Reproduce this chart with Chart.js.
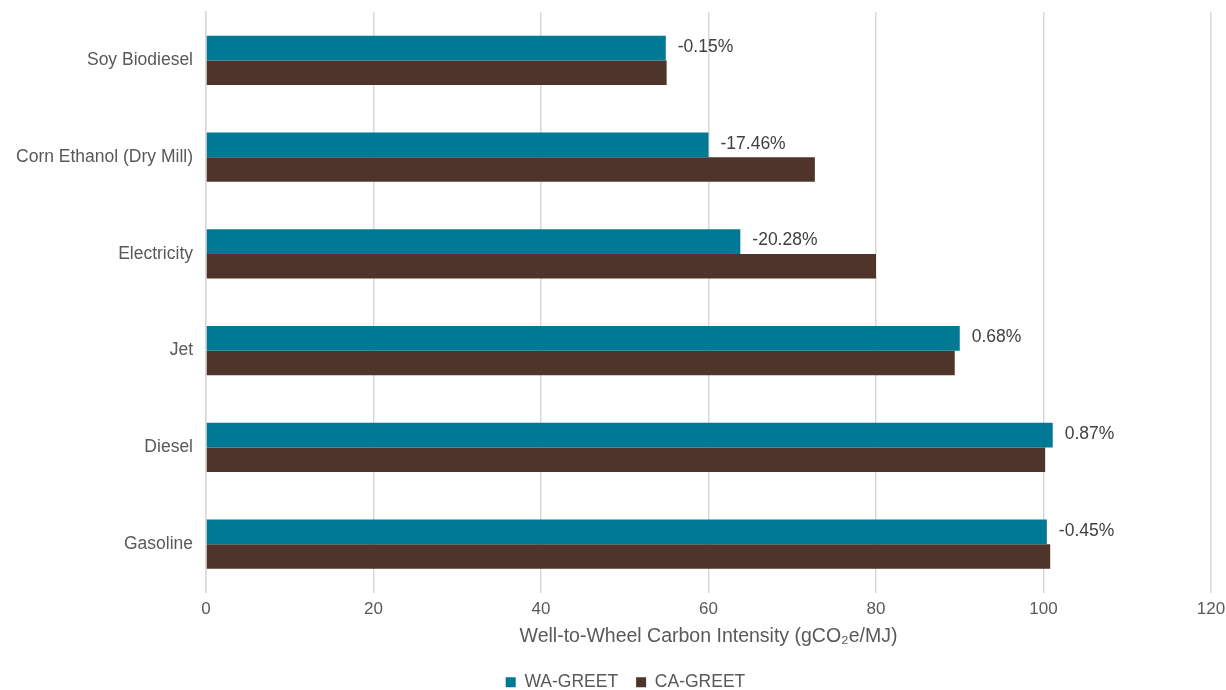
<!DOCTYPE html>
<html>
<head>
<meta charset="utf-8">
<script src="https://cdn.jsdelivr.net/npm/chart.js@4.4.1/dist/chart.umd.min.js"></script>
<style>
  html, body { margin: 0; padding: 0; background: #fff; }
  #wrap { width: 1226px; height: 690px; position: relative; }
</style>
</head>
<body>
<div id="wrap"><canvas id="ciChart"></canvas></div>
<script>
// fuels, top to bottom
const fuels = ['Soy Biodiesel', 'Corn Ethanol (Dry Mill)', 'Electricity', 'Jet', 'Diesel', 'Gasoline'];
// well-to-wheel CI, gCO2e/MJ
const waGreet = [54.9, 60.0, 63.8, 90.0, 101.1, 100.4];
const caGreet = [55.0, 72.7, 80.0, 89.4, 100.2, 100.8];
// WA vs CA difference labels
const diffLabels = ['-0.15%', '-17.46%', '-20.28%', '0.68%', '0.87%', '-0.45%'];
const xTicks = [0, 20, 40, 60, 80, 100, 120];

const FONT = 'Liberation Sans, Arial, Helvetica, sans-serif';
const TEXT = '#595959';

// writes the % difference just past the end of each WA bar
const diffLabelPlugin = {
    id: 'diffLabels',
    afterDatasetsDraw(chart) {
        const ctx = chart.ctx;
        const meta = chart.getDatasetMeta(0);
        ctx.save();
        ctx.font = '17.5px ' + FONT;
        ctx.fillStyle = '#404040';
        ctx.textAlign = 'left';
        ctx.textBaseline = 'middle';
        meta.data.forEach((bar, i) => {
            ctx.fillText(diffLabels[i], bar.x + 12, bar.y - 1);
        });
        ctx.restore();
    }
};

// legend sits a bit right of centre in the original
const legendShift = {
    id: 'legendShift',
    afterLayout(chart) {
        chart.legend.left += 20;
        chart.legend.right += 20;
    }
};

const ctx = document.getElementById('ciChart').getContext('2d');
const ciChart = new Chart(ctx, {
    type: 'bar',
    data: {
        labels: fuels,
        datasets: [{
            label: 'WA-GREET',
            data: waGreet,
            backgroundColor: '#007a94',
            borderWidth: 0,
            categoryPercentage: 0.51,
            barPercentage: 1.0
        }, {
            label: 'CA-GREET',
            data: caGreet,
            backgroundColor: '#4e342a',
            borderWidth: 0,
            categoryPercentage: 0.51,
            barPercentage: 1.0
        }]
    },
    options: {
        indexAxis: 'y',
        responsive: true,
        maintainAspectRatio: false,
        animation: false,
        layout: {
            padding: { top: 12, right: 15, left: 0, bottom: -11 }
        },
        scales: {
            x: {
                min: 0,
                max: 120,
                afterBuildTicks(scale) {
                    scale.ticks = xTicks.map(v => ({ value: v }));
                },
                afterFit(scale) {
                    scale.height = 63;
                    scale.paddingLeft = 0;
                    scale.paddingRight = 0;
                },
                grid: { color: '#d9d9d9', lineWidth: 1.5, drawTicks: false },
                border: { display: false },
                ticks: {
                    color: TEXT,
                    font: { family: FONT, size: 17 },
                    padding: 7
                },
                title: {
                    display: true,
                    text: 'Well-to-Wheel Carbon Intensity (gCO\u2082e/MJ)',
                    color: TEXT,
                    font: { family: FONT, size: 19.5 },
                    padding: { top: 4, bottom: 7 }
                }
            },
            y: {
                afterFit(scale) {
                    scale.width = 206;
                    scale.paddingTop = 0;
                    scale.paddingBottom = 0;
                },
                grid: { display: false },
                border: { display: true, color: '#d9d9d9', width: 1.5 },
                ticks: {
                    color: TEXT,
                    font: { family: FONT, size: 17.5 },
                    padding: 5
                }
            }
        },
        plugins: {
            legend: {
                position: 'bottom',
                labels: {
                    boxWidth: 10,
                    boxHeight: 10,
                    padding: 18,
                    color: TEXT,
                    font: { family: FONT, size: 17.5 }
                }
            },
            tooltip: { enabled: false }
        }
    },
    plugins: [diffLabelPlugin, legendShift]
});
</script>
</body>
</html>
